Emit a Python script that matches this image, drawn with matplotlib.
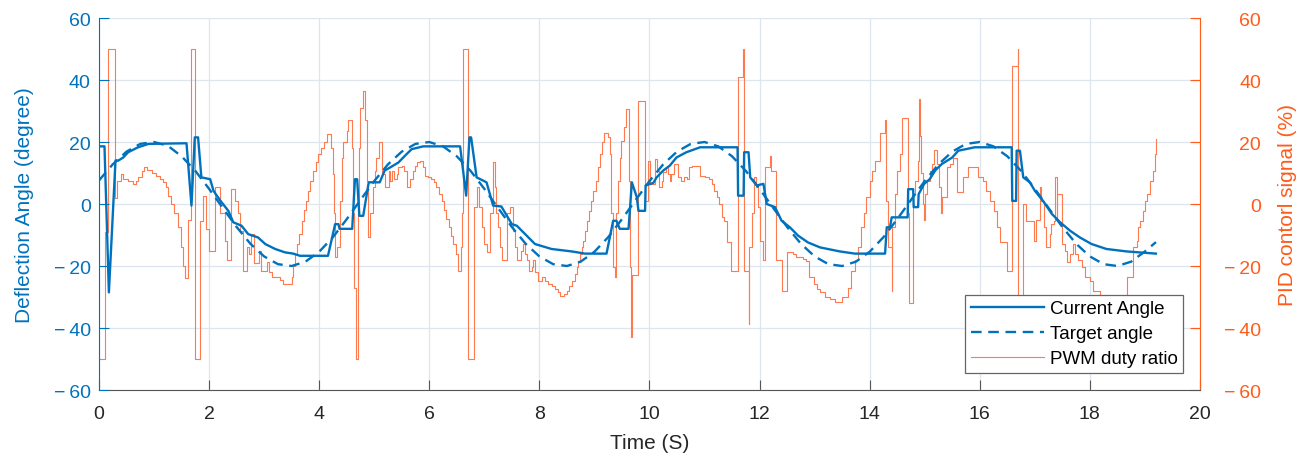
import numpy as np
import matplotlib
matplotlib.use("Agg")
import matplotlib.pyplot as plt
from matplotlib.lines import Line2D
from matplotlib.ticker import FuncFormatter

plt.rcParams['font.family'] = ['Liberation Sans', 'DejaVu Sans']

BLUE = '#0072BD'
ORANGE = '#FF7A4D'
ORANGE_AX = '#FF5B1A'

# target angle, read every 0.25 s (last point at 19.2 s)
target_t = list(np.arange(0, 19.01, 0.25)) + [19.2]
target_v = [7.6, 12.8, 16.9, 19.4, 20.0, 18.8, 15.4, 10.7, 4.9, -1.3,
            -7.4, -12.8, -16.9, -19.4, -20.0, -18.6, -15.4, -10.7, -4.9, 1.3,
            7.4, 12.8, 16.9, 19.4, 20.0, 18.6, 15.4, 10.7, 4.9, -1.3,
            -7.4, -12.8, -16.9, -19.4, -20.0, -18.6, -15.4, -10.7, -4.9, 1.3,
            7.4, 12.8, 16.9, 19.4, 20.0, 18.6, 15.4, 10.7, 4.9, -1.3,
            -7.4, -12.8, -16.9, -19.4, -20.0, -18.6, -15.4, -10.7, -4.9, 1.3,
            7.4, 12.8, 16.9, 19.4, 20.0, 18.6, 15.4, 10.7, 4.9, -1.3,
            -7.4, -12.8, -16.9, -19.4, -20.0, -18.6, -15.3, -12.3]

# current angle
cur_t = [0.00, 0.10, 0.18, 0.30, 0.35, 0.44, 0.53, 0.71, 0.90, 1.59, 1.68, 1.74, 1.80, 1.86,
         2.02, 2.08, 2.14, 2.23, 2.35, 2.44, 2.59, 2.71, 2.89, 3.02, 3.20, 3.38, 3.53, 3.65,
         4.16, 4.29, 4.35, 4.37, 4.60, 4.65, 4.69, 4.73, 4.80, 4.90, 5.10, 5.19, 5.29, 5.44,
         5.56, 5.68, 5.89, 6.56, 6.67, 6.73, 6.76, 6.86, 7.04, 7.16, 7.31, 7.50, 7.59, 7.74,
         7.92, 8.22, 8.59, 8.83, 9.22, 9.34, 9.40, 9.46, 9.62, 9.68, 9.77, 9.80, 9.92, 9.93,
         10.07, 10.13, 10.25, 10.37, 10.49, 10.67, 10.92, 11.60, 11.61, 11.71, 11.72, 11.80,
         11.83, 11.95, 12.07, 12.13, 12.28, 12.40, 12.55, 12.70, 12.88, 13.10, 13.46, 13.73,
         14.28, 14.31, 14.37, 14.40, 14.69, 14.70, 14.79, 14.80, 14.88, 14.89, 14.99, 15.09,
         15.19, 15.31, 15.50, 15.61, 15.91, 16.58, 16.59, 16.66, 16.67, 16.73, 16.79, 16.91,
         17.00, 17.15, 17.31, 17.46, 17.64, 17.82, 18.03, 18.30, 18.67, 19.20]
cur_v = [18.6, 18.6, -28.5, 14.0, 14.0, 15.0, 16.7, 18.3, 19.4, 19.6, -0.5, 21.5, 21.5, 8.6,
         8.0, 4.3, 2.7, 0.5, -2.2, -5.9, -7.0, -9.7, -10.8, -12.9, -14.5, -15.6, -16.0, -16.7,
         -16.7, -6.5, -6.5, -8.0, -8.0, 8.0, 8.0, -3.8, -3.8, 7.0, 7.0, 10.8, 11.8, 13.4,
         15.6, 17.7, 18.6, 18.6, 2.7, 21.5, 21.5, 8.6, 7.0, -0.5, -0.8, -6.5, -7.0, -9.7,
         -12.9, -14.5, -15.3, -16.0, -16.0, -5.4, -5.4, -8.0, -8.0, 7.0, 2.2, -2.2, -2.2, 6.0,
         6.8, 8.6, 10.8, 12.4, 15.0, 16.7, 18.3, 18.3, 2.7, 2.7, 16.7, 16.7,
         8.6, 6.0, 6.5, 0.0, -1.0, -5.4, -7.5, -10.2, -12.4, -14.0, -15.3, -16.0,
         -16.0, -7.5, -7.5, -4.3, -4.3, 4.8, 4.8, -1.0, -1.0, 3.2, 6.5, 8.0,
         10.8, 12.9, 15.0, 17.2, 18.3, 18.3, 1.0, 1.0, 17.2, 17.2, 8.6, 7.0,
         4.3, 1.0, -3.2, -5.9, -8.6, -10.8, -12.9, -14.5, -15.3, -16.0]

# PWM duty ratio (%), step changes: time where each level starts
pwm_t = [0.00, 0.11, 0.16, 0.30, 0.33, 0.40, 0.44, 0.53, 0.62, 0.68, 0.71, 0.78, 0.82, 0.88,
         0.96, 1.03, 1.11, 1.17, 1.21, 1.26, 1.31, 1.37, 1.43, 1.49, 1.53, 1.56, 1.62, 1.67,
         1.74, 1.84, 1.89, 1.94, 1.99, 2.10, 2.20, 2.29, 2.32, 2.40, 2.47, 2.53, 2.57, 2.62,
         2.69, 2.72, 2.76, 2.81, 2.91, 2.94, 3.05, 3.09, 3.14, 3.29, 3.35, 3.50, 3.53, 3.56,
         3.60, 3.64, 3.68, 3.72, 3.76, 3.80, 3.84, 3.89, 3.94, 3.98, 4.03, 4.08, 4.14, 4.21,
         4.25, 4.27, 4.29, 4.33, 4.37, 4.41, 4.44, 4.50, 4.53, 4.59, 4.61, 4.63, 4.66, 4.71,
         4.73, 4.75, 4.79, 4.84, 4.87, 4.89, 4.93, 4.97, 5.01, 5.04, 5.09, 5.15, 5.20, 5.26,
         5.29, 5.32, 5.36, 5.41, 5.44, 5.50, 5.54, 5.59, 5.65, 5.70, 5.74, 5.78, 5.83, 5.88,
         5.92, 5.98, 6.04, 6.09, 6.13, 6.18, 6.23, 6.27, 6.31, 6.35, 6.39, 6.44, 6.49, 6.53,
         6.57, 6.59, 6.62, 6.71, 6.81, 6.86, 6.90, 6.95, 7.00, 7.04, 7.10, 7.15, 7.19, 7.22,
         7.25, 7.28, 7.33, 7.42, 7.47, 7.53, 7.56, 7.60, 7.67, 7.71, 7.74, 7.78, 7.81, 7.86,
         7.89, 7.92, 7.97, 8.04, 8.10, 8.16, 8.23, 8.28, 8.33, 8.37, 8.45, 8.50, 8.54, 8.59,
         8.64, 8.68, 8.71, 8.74, 8.77, 8.80, 8.83, 8.87, 8.90, 8.94, 8.98, 9.02, 9.06, 9.10,
         9.13, 9.17, 9.24, 9.28, 9.31, 9.34, 9.37, 9.40, 9.43, 9.46, 9.49, 9.54, 9.58, 9.62,
         9.64, 9.67, 9.69, 9.80, 9.92, 9.97, 10.01, 10.10, 10.13, 10.18, 10.22, 10.25, 10.30,
         10.34, 10.37, 10.40, 10.45, 10.52, 10.58, 10.62, 10.68, 10.72, 10.77, 10.91, 11.01,
         11.09, 11.13, 11.17, 11.22, 11.27, 11.31, 11.35, 11.40, 11.49, 11.60, 11.69, 11.71,
         11.80, 11.81, 11.86, 11.89, 11.94, 11.98, 12.01, 12.07, 12.10, 12.19, 12.20, 12.30,
         12.40, 12.50, 12.60, 12.67, 12.79, 12.84, 12.90, 12.98, 13.04, 13.10, 13.19, 13.28,
         13.37, 13.49, 13.60, 13.67, 13.73, 13.79, 13.84, 13.90, 13.94, 14.00, 14.05, 14.10,
         14.19, 14.28, 14.29, 14.34, 14.40, 14.41, 14.46, 14.49, 14.55, 14.58, 14.70, 14.72,
         14.79, 14.82, 14.87, 14.89, 14.92, 14.94, 14.97, 14.99, 15.01, 15.05, 15.09, 15.13,
         15.17, 15.22, 15.26, 15.30, 15.31, 15.40, 15.46, 15.52, 15.58, 15.70, 15.79, 15.97,
         16.06, 16.12, 16.18, 16.25, 16.31, 16.37, 16.49, 16.59, 16.69, 16.70, 16.79, 16.84,
         16.98, 17.02, 17.09, 17.12, 17.17, 17.20, 17.28, 17.30, 17.34, 17.37, 17.40, 17.41,
         17.49, 17.55, 17.58, 17.64, 17.70, 17.73, 17.79, 17.85, 17.91, 18.00, 18.06, 18.18,
         18.30, 18.48, 18.60, 18.67, 18.79, 18.85, 18.88, 18.91, 18.97, 19.00, 19.03, 19.09,
         19.14, 19.18, 19.20]
pwm_v = [-50, -9, 50, 2, 7.5, 9.7, 8, 7.5, 6.5, 7.5, 8.6, 10.8, 11.8, 11,
         10, 9, 8, 7, 5.4, 2.7, 0, -3, -7.5, -14, -20, -24, -5, 50,
         -50, -5.4, 2.7, -8, -15, 5.4, -3, -12, -18, 4.8, 1, -3, -8.6, -21.5,
         -14, -16, -9.7, -19, -15, -21.5, -18.6, -22, -23.7, -24.5, -25.8, -23.7, -20, -16,
         -13, -9.7, -5.4, -2, 1, 4.3, 7.5, 10.8, 13.5, 16, 18, 20, 22.6, 18,
         9.7, -3, -17, -14, 1, 15, 20, 23.7, 27, 18, -3, -27, -50, -3,
         18, 31, 36.6, 27, 7.5, -10.8, -3, 5.4, 10.8, 15, 20, 9.7, 5.4, 10.8,
         7.5, 10.8, 8, 9.7, 11.8, 12.4, 10.8, 5.4, 8, 10.8, 12.4, 13.4, 14, 11.8,
         9.1, 8.6, 8, 7, 5.4, 3.2, 1, -2, -4.8, -7.5, -10.2, -13, -16, -21.5,
         -14, -3, 50, -50, -1, 5.4, -1, -7.5, -13, -15.6, -3, 13.4, 5.4, -3,
         -7.5, -14, -18, -3, -1, -8.6, -14, -18, -15, -13, -16, -18, -21.5, -20.4,
         -18, -22, -24.7, -23.7, -24.7, -25.8, -26.3, -27.4, -28.5, -29.6, -29, -28, -26.3, -24.7,
         -22.6, -20.4, -18.3, -16.1, -14, -11.8, -8.6, -5.4, -2.2, 1, 4.3, 7.5, 11.8, 16,
         20, 23, 21.5, 16, -3, -20.4, -23.7, -3, 7.5, 15, 20.4, 24.7, 30.6, 7.5,
         -20.4, -43, -23, 33.3, 1, 14, 6.5, 14.5, 10.8, 5.4, 7.5, 10.2, 11.8,
         9.7, 7.5, 9.7, 12.9, 8.6, 7.5, 8.6, 8, 11.8, 12.4, 9.1, 8.6,
         8, 6.5, 4.3, 2.2, 0, -4.3, -5.4, -12.4, -21.5, 41, 50, -21.5,
         -38.7, -14, -3, 8.6, 5.4, -1, -11.8, -18, 11.8, 15.6, 10.8, -18,
         -28, -15.6, -16, -17, -17.7, -18.3, -23.7, -25.8, -27.4, -28.5, -30, -30.6,
         -31.7, -30, -27, -21.5, -18, -14, -7.5, -3, 2.2, 7.5, 10.8, 14,
         23, 27, 1, -14, -28, -7.5, 3.2, 10.8, 16, 27.7, -3, -32,
         3.2, 7.5, 14, 34, 22, 10, 0, -5, 3.2, 7.5, 10.8, 13,
         17.5, 12.9, 5.4, -3, 2.2, 11.8, 12.9, 15, 3.8, 8.6, 11.8, 8.6,
         7.5, 4.3, 1, -2.2, -7.5, -12.4, -21.5, 44.6, 50, -50, 0, -5.4,
         -12, -5, 5.4, 1, -7.5, -14, -9.7, -6.5, -5.4, 8.6, -5.4, 3.2,
         -13, -15, -18.8, -16, -13, -16, -18, -20.4, -23.7, -24.7, -28, -30,
         -32, -33, -30, -23.7, -14, -11.8, -7.5, -5.4, -2.2, 1, 3.2, 7.5,
         10.8, 16, 21]

y_ticks = [-60, -40, -20, 0, 20, 40, 60]


def fmt_tick(v, pos):
    # MATLAB style minus with a gap
    return ('\u2212\u2009%d' % abs(v)) if v < 0 else '%d' % v


fig = plt.figure(figsize=(13.11, 4.56), dpi=100)
ax2 = fig.add_axes([0.0755, 0.1425, 0.8398, 0.8158])
ax1 = ax2.twinx()
ax1.yaxis.tick_left()
ax1.yaxis.set_label_position('left')
ax2.yaxis.tick_right()
ax2.yaxis.set_label_position('right')
ax1.set_zorder(ax2.get_zorder() + 1)
ax1.patch.set_visible(False)

# right axis: PWM
ax2.plot(pwm_t, pwm_v, drawstyle='steps-post', color=ORANGE, lw=0.8)
ax2.set_ylim(-60, 60)
ax2.set_yticks(y_ticks)
ax2.set_xlim(0, 20)
ax2.set_xticks(range(0, 21, 2))
ax2.grid(True, color='#DDE6EF', lw=0.9)
ax2.set_axisbelow(True)

# left axis: angles
ax1.plot(cur_t, cur_v, color=BLUE, lw=1.7)
ax1.plot(target_t, target_v, color=BLUE, lw=1.7, ls=(0, (4.5, 2.8)))
ax1.set_ylim(-60, 60)
ax1.set_yticks(y_ticks)
ax1.yaxis.set_major_formatter(FuncFormatter(fmt_tick))
ax2.yaxis.set_major_formatter(FuncFormatter(fmt_tick))

for ax in (ax1, ax2):
    ax.spines['top'].set_visible(False)
    ax.tick_params(direction='in', length=7, width=0.8, labelsize=14)
ax1.spines['left'].set_color(BLUE)
ax1.spines['right'].set_visible(False)
ax1.spines['bottom'].set_visible(False)
ax2.spines['left'].set_visible(False)
ax2.spines['right'].set_color(ORANGE_AX)
ax2.spines['bottom'].set_color('#555555')
ax1.tick_params(axis='y', colors=BLUE, pad=6)
ax2.tick_params(axis='y', colors=ORANGE_AX, pad=44)
for lbl in ax2.get_yticklabels():
    lbl.set_horizontalalignment('right')
ax2.tick_params(axis='x', colors='#555555', labelcolor='#262626', pad=11)

ax1.set_ylabel('Deflection Angle (degree)', color=BLUE, fontsize=15, labelpad=14)
ax2.set_ylabel('PID contorl signal (%)', color=ORANGE_AX, fontsize=15, labelpad=12)
ax2.set_xlabel('Time (S)', color='#262626', fontsize=15, labelpad=8)

handles = [Line2D([], [], color=BLUE, lw=1.7),
           Line2D([], [], color=BLUE, lw=1.7, ls=(0, (4.5, 2.8))),
           Line2D([], [], color=ORANGE, lw=0.8)]
leg = ax1.legend(handles, ['Current Angle', 'Target angle', 'PWM duty ratio'],
                 loc='lower right', bbox_to_anchor=(0.9846, 0.0457), fontsize=13.5,
                 fancybox=False, framealpha=1, edgecolor='#666666',
                 handlelength=3.9, handletextpad=0.3, labelspacing=0.42,
                 borderpad=0.3, borderaxespad=0)
leg.get_frame().set_linewidth(0.9)

fig.savefig('out.png', dpi=100)
